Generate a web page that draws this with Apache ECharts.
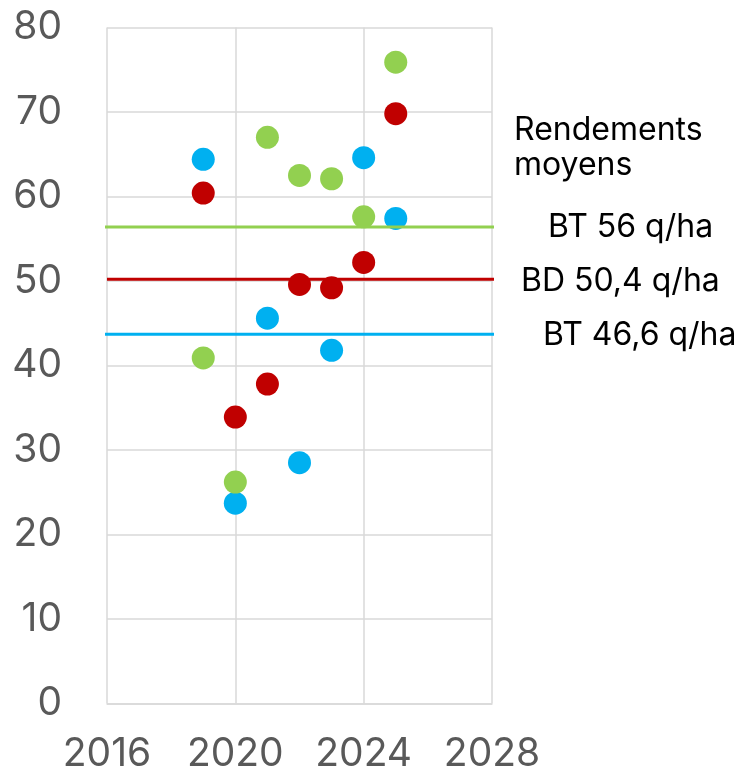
<!DOCTYPE html>
<html>
<head>
<meta charset="utf-8">
<script src="https://cdn.jsdelivr.net/npm/echarts@6/dist/echarts.min.js"></script>
<style>
  html, body { margin: 0; padding: 0; background: #fff; }
  #chart { width: 743px; height: 776px; }
</style>
</head>
<body>
<div id="chart"></div>
<script>
// années
const years = [2019, 2020, 2021, 2022, 2023, 2024, 2025];
// rendements (q/ha)
const btBlue = [64.4, 23.7, 45.6, 28.5, 41.8, 64.6, 57.4];
const btGreen = [40.9, 26.2, 67.0, 62.5, 62.1, 57.6, 75.9];
const bdRed = [60.4, 33.9, 37.8, 49.6, 49.2, 52.2, 69.8];
// moyennes (traits horizontaux)
const greenMeanX = [2015.78, 2028.84];
const greenMean = 56.4;
const redMeanX = [2016, 2028.78];
const redMean = 50.2;
const blueMeanX = [2015.78, 2028.84];
const blueMean = 43.7;

const xTicks = [2016, 2020, 2024, 2028];

const toPts = (vals) => years.map((y, i) => [y, vals[i]]);
const meanLine = (xs, v) => xs.map((x) => [x, v]);

let myChart = echarts.init(document.getElementById("chart"));
let dot = (vals, color) => ({
  type: "scatter",
  data: toPts(vals),
  symbol: "circle",
  symbolSize: 23,
  itemStyle: { color: color, opacity: 1 }
});
let mean = (xs, v, color) => ({
  type: "line",
  data: meanLine(xs, v),
  showSymbol: false,
  clip: false,
  z: 5,
  lineStyle: { color: color, width: 3 }
});
let label = (txt, x, y) => ({
  type: "text",
  left: x,
  top: y,
  style: { text: txt, fill: "#000", fontSize: 32, fontFamily: "Inter" }
});
let option = {
  animation: false,
  grid: { left: 107, right: 251, top: 27.5, bottom: 72.5 },
  xAxis: {
    type: "value",
    min: xTicks[0],
    max: xTicks[xTicks.length - 1],
    interval: 4,
    axisLine: { show: true, lineStyle: { color: "#D9D9D9", width: 1.5 } },
    axisTick: { show: false },
    splitLine: { show: true, lineStyle: { color: "#D9D9D9", width: 1.5 } },
    axisLabel: {
      margin: 31,
      color: "#595959",
      fontSize: 39,
      fontFamily: "Inter",
      formatter: (v) => String(v)
    }
  },
  yAxis: {
    type: "value",
    min: 0,
    max: 80,
    interval: 10,
    axisLine: { show: false },
    axisTick: { show: false },
    splitLine: { show: true, lineStyle: { color: "#D9D9D9", width: 1.5 } },
    axisLabel: {
      margin: 45,
      color: "#595959",
      fontSize: 39,
      fontFamily: "Inter"
    }
  },
  series: [
    dot(btBlue, "#00B0F0"),
    dot(btGreen, "#92D050"),
    dot(bdRed, "#C00000"),
    mean(greenMeanX, greenMean, "#92D050"),
    mean(redMeanX, redMean, "#C00000"),
    mean(blueMeanX, blueMean, "#00B0F0")
  ],
  graphic: [
    label("Rendements", 514, 114),
    label("moyens", 514, 149),
    label("BT 56 q/ha", 548, 211),
    label("BD 50,4 q/ha", 521, 265),
    label("BT 46,6 q/ha", 543, 319)
  ]
};
myChart.setOption(option);
</script>
</body>
</html>
